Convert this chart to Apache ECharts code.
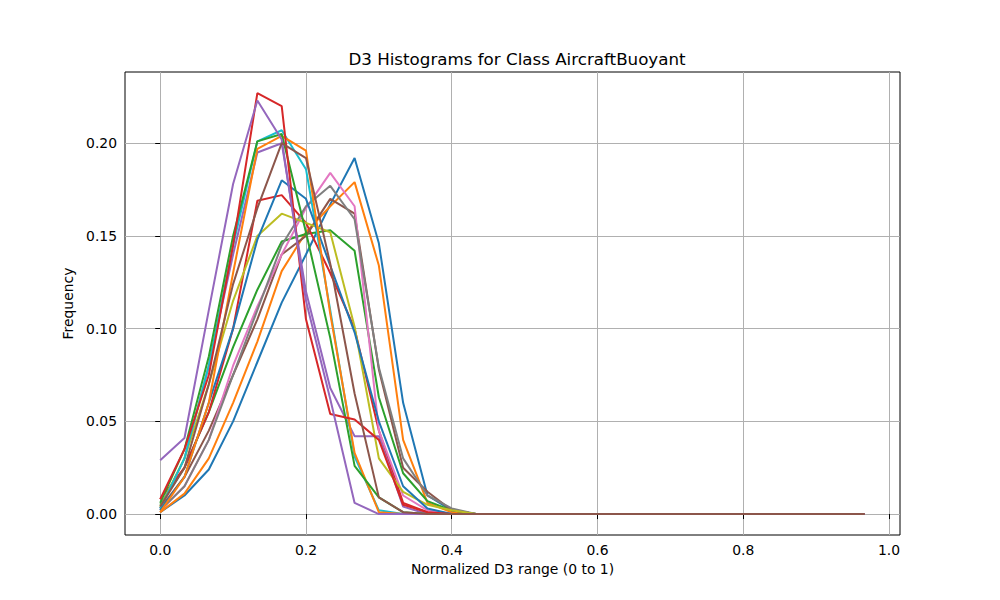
<!DOCTYPE html>
<html>
<head>
<meta charset="utf-8">
<script src="https://cdn.jsdelivr.net/npm/echarts@6/dist/echarts.min.js"></script>
<style>
  html, body { margin: 0; padding: 0; background: #fff; }
  #main { width: 1000px; height: 600px; }
</style>
</head>
<body>
<div id="main"></div>
<script>
// bin positions (30 bins over 0..1)
var binX = [0, 0.0333, 0.0667, 0.1, 0.1333, 0.1667, 0.2, 0.2333, 0.2667, 0.3,
            0.3333, 0.3667, 0.4, 0.4333, 0.4667, 0.5, 0.5333, 0.5667, 0.6, 0.6333,
            0.6667, 0.7, 0.7333, 0.7667, 0.8, 0.8333, 0.8667, 0.9, 0.9333, 0.9667];

var xTicks = [0, 0.2, 0.4, 0.6, 0.8, 1.0];
var yTicks = [0, 0.05, 0.10, 0.15, 0.20];

// one histogram per sample
var h01 = [0.001, 0.010, 0.024, 0.050, 0.082, 0.114, 0.140, 0.167, 0.192, 0.146, 0.060, 0.010, 0.002, 0, 0, 0, 0, 0, 0, 0, 0, 0, 0, 0, 0, 0, 0, 0, 0, 0];
var h02 = [0.001, 0.011, 0.030, 0.060, 0.093, 0.131, 0.152, 0.166, 0.179, 0.134, 0.040, 0.006, 0.001, 0, 0, 0, 0, 0, 0, 0, 0, 0, 0, 0, 0, 0, 0, 0, 0, 0];
var h03 = [0.005, 0.025, 0.055, 0.090, 0.121, 0.147, 0.151, 0.153, 0.142, 0.063, 0.022, 0.007, 0.002, 0, 0, 0, 0, 0, 0, 0, 0, 0, 0, 0, 0, 0, 0, 0, 0, 0];
var h04 = [0.008, 0.025, 0.055, 0.100, 0.169, 0.172, 0.157, 0.130, 0.100, 0.045, 0.006, 0.001, 0, 0, 0, 0, 0, 0, 0, 0, 0, 0, 0, 0, 0, 0, 0, 0, 0, 0];
var h05 = [0.003, 0.030, 0.080, 0.140, 0.195, 0.200, 0.120, 0.068, 0.042, 0.042, 0.004, 0, 0, 0, 0, 0, 0, 0, 0, 0, 0, 0, 0, 0, 0, 0, 0, 0, 0, 0];
var h06 = [0.003, 0.020, 0.045, 0.075, 0.105, 0.140, 0.150, 0.170, 0.162, 0.078, 0.025, 0.012, 0.002, 0, 0, 0, 0, 0, 0, 0, 0, 0, 0, 0, 0, 0, 0, 0, 0, 0];
var h07 = [0.002, 0.015, 0.040, 0.080, 0.112, 0.140, 0.165, 0.184, 0.166, 0.045, 0.010, 0.002, 0, 0, 0, 0, 0, 0, 0, 0, 0, 0, 0, 0, 0, 0, 0, 0, 0, 0];
var h08 = [0.002, 0.015, 0.040, 0.075, 0.110, 0.145, 0.166, 0.177, 0.159, 0.079, 0.030, 0.010, 0.003, 0, 0, 0, 0, 0, 0, 0, 0, 0, 0, 0, 0, 0, 0, 0, 0, 0];
var h09 = [0.004, 0.030, 0.070, 0.115, 0.150, 0.162, 0.157, 0.152, 0.101, 0.030, 0.012, 0.005, 0.002, 0, 0, 0, 0, 0, 0, 0, 0, 0, 0, 0, 0, 0, 0, 0, 0, 0];
var h10 = [0.003, 0.030, 0.080, 0.145, 0.201, 0.207, 0.186, 0.110, 0.031, 0.002, 0, 0, 0, 0, 0, 0, 0, 0, 0, 0, 0, 0, 0, 0, 0, 0, 0, 0, 0, 0];
var h11 = [0.002, 0.020, 0.060, 0.100, 0.148, 0.180, 0.170, 0.134, 0.098, 0.050, 0.015, 0.003, 0, 0, 0, 0, 0, 0, 0, 0, 0, 0, 0, 0, 0, 0, 0, 0, 0, 0];
var h12 = [0.001, 0.020, 0.060, 0.130, 0.197, 0.204, 0.196, 0.108, 0.033, 0.001, 0, 0, 0, 0, 0, 0, 0, 0, 0, 0, 0, 0, 0, 0, 0, 0, 0, 0, 0, 0];
var h13 = [0.006, 0.035, 0.085, 0.150, 0.201, 0.205, 0.152, 0.095, 0.026, 0.009, 0.001, 0, 0, 0, 0, 0, 0, 0, 0, 0, 0, 0, 0, 0, 0, 0, 0, 0, 0, 0];
var h14 = [0.008, 0.035, 0.075, 0.145, 0.227, 0.220, 0.105, 0.054, 0.051, 0.040, 0.005, 0.001, 0, 0, 0, 0, 0, 0, 0, 0, 0, 0, 0, 0, 0, 0, 0, 0, 0, 0];
var h15 = [0.029, 0.041, 0.110, 0.178, 0.223, 0.202, 0.115, 0.062, 0.006, 0, 0, 0, 0, 0, 0, 0, 0, 0, 0, 0, 0, 0, 0, 0, 0, 0, 0, 0, 0, 0];
var h16 = [0.004, 0.025, 0.070, 0.124, 0.165, 0.200, 0.192, 0.135, 0.065, 0.009, 0.001, 0, 0, 0, 0, 0, 0, 0, 0, 0, 0, 0, 0, 0, 0, 0, 0, 0, 0, 0];

var hists = [h01, h02, h03, h04, h05, h06, h07, h08, h09, h10, h11, h12, h13, h14, h15, h16];

// matplotlib default colour cycle
var tab10 = ['#1f77b4', '#ff7f0e', '#2ca02c', '#d62728', '#9467bd',
             '#8c564b', '#e377c2', '#7f7f7f', '#bcbd22', '#17becf'];

var myChart = echarts.init(document.getElementById('main'), null, { renderer: 'svg' });

var font = 'DejaVu Sans';

var series = hists.map(function (h, k) {
    return {
        type: 'line',
        showSymbol: false,
        symbol: 'none',
        data: binX.map(function (x, i) { return [x, h[i]]; }),
        lineStyle: { color: tab10[k % 10], width: 2 },
        itemStyle: { color: tab10[k % 10] },
        z: 2 + k
    };
});

option = {
    animation: false,
    title: {
        text: 'D3 Histograms for Class AircraftBuoyant',
        left: 512,
        top: 45,
        textAlign: 'center',
        textStyle: { fontFamily: font, fontSize: 16.7, fontWeight: 'normal', color: '#000' }
    },
    grid: {
        left: 125, right: 100, top: 72, bottom: 65,
        show: true, borderColor: '#000', borderWidth: 1, backgroundColor: 'transparent'
    },
    xAxis: {
        type: 'value',
        min: -0.0483,
        max: 1.015,
        name: 'Normalized D3 range (0 to 1)',
        nameLocation: 'middle',
        nameGap: 27,
        nameTextStyle: { fontFamily: font, fontSize: 13.9, color: '#000' },
        axisLine: { show: false },
        axisTick: { show: true, length: 5, customValues: xTicks, lineStyle: { color: '#000', width: 1 } },
        axisLabel: {
            customValues: xTicks, margin: 8, color: '#000', fontFamily: font, fontSize: 13.9,
            formatter: function (v) { return v.toFixed(1); }
        },
        splitLine: { show: true, lineStyle: { color: '#b0b0b0', width: 1 } }
    },
    yAxis: {
        type: 'value',
        min: -0.0113,
        max: 0.2384,
        name: 'Frequency',
        nameLocation: 'middle',
        nameGap: 45,
        nameTextStyle: { fontFamily: font, fontSize: 13.9, color: '#000' },
        axisLine: { show: false },
        axisTick: { show: true, length: 5, customValues: yTicks, lineStyle: { color: '#000', width: 1 } },
        axisLabel: {
            customValues: yTicks, margin: 8, color: '#000', fontFamily: font, fontSize: 13.9,
            formatter: function (v) { return v.toFixed(2); }
        },
        splitLine: { show: true, lineStyle: { color: '#b0b0b0', width: 1 } }
    },
    series: series
};

myChart.setOption(option);
</script>
</body>
</html>
